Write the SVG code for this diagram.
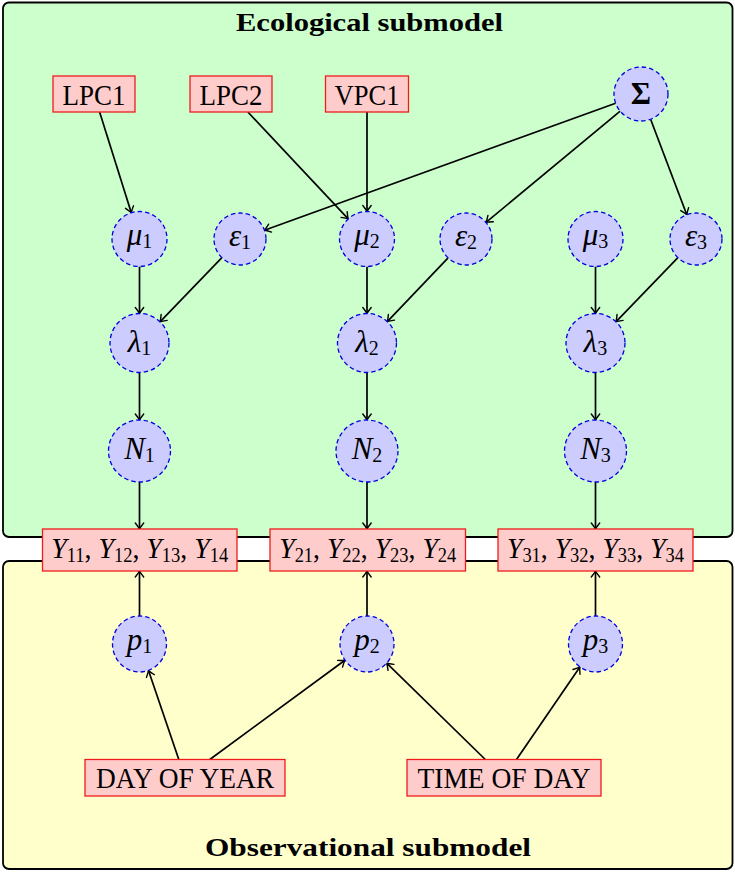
<svg xmlns="http://www.w3.org/2000/svg" width="735" height="872" viewBox="0 0 735 872">
<defs>
<style>
.panel{stroke:#000;stroke-width:1.8}
.box{fill:#ffcccc;stroke:#ee1c1c;stroke-width:1.3}
.var{fill:#ccccff;stroke:#0000e0;stroke-width:1.3;stroke-dasharray:4.5 3}
.edge{stroke:#000;stroke-width:1.7;fill:none;marker-end:url(#arr)}
text{font-family:"Liberation Serif","DejaVu Serif",serif;fill:#000}
.lbl{font-size:29px}
.ylbl{font-size:30px}
.m{font-size:31px;text-anchor:middle}
.it{font-style:italic}
.sub{font-size:20px;font-style:normal}
.title{font-size:26px;font-weight:bold;text-anchor:middle}
</style>
<marker id="arr" markerUnits="userSpaceOnUse" markerWidth="12" markerHeight="12" viewBox="-7 -6 8 12" refX="0" refY="0" orient="auto">
<path d="M-6,-4.2 Q-2,-1 0,0 Q-2,1 -6,4.2" fill="none" stroke="#000" stroke-width="1.4" stroke-linecap="round"/>
</marker>
</defs>
<rect width="735" height="872" fill="#fff"/>
<g id="eco-panel">
<rect class="panel" x="3" y="2.5" width="729.5" height="534.5" rx="6" fill="#ccffcc"/>
<text class="title" x="369.5" y="31" textLength="267" lengthAdjust="spacingAndGlyphs">Ecological submodel</text>
</g>
<g id="obs-panel">
<rect class="panel" x="3" y="561" width="729.5" height="308" rx="6" fill="#ffffcc"/>
<text class="title" x="368" y="855.5" textLength="326" lengthAdjust="spacingAndGlyphs">Observational submodel</text>
</g>
<g id="connectors">
<line class="edge" x1="99.6" y1="112" x2="131.3" y2="212.8"/>
<line class="edge" x1="247.9" y1="112" x2="348.2" y2="218.9"/>
<line class="edge" x1="367" y1="112" x2="367" y2="211.5"/>
<line class="edge" x1="615.6" y1="103.2" x2="264.45" y2="230.2"/>
<line class="edge" x1="620.2" y1="111.2" x2="486" y2="222.4"/>
<line class="edge" x1="650.6" y1="119.2" x2="686.8" y2="214.7"/>
<line class="edge" x1="139.5" y1="266.5" x2="139.5" y2="313.5"/>
<line class="edge" x1="221.9" y1="257.7" x2="160" y2="321.8"/>
<line class="edge" x1="367" y1="266.5" x2="367" y2="313.5"/>
<line class="edge" x1="448.1" y1="257.8" x2="387.3" y2="321.6"/>
<line class="edge" x1="595.5" y1="266.5" x2="595.5" y2="313.5"/>
<line class="edge" x1="677.9" y1="257.7" x2="615.9" y2="321.8"/>
<line class="edge" x1="139.5" y1="372.5" x2="139.5" y2="420"/>
<line class="edge" x1="367" y1="372.5" x2="367" y2="420"/>
<line class="edge" x1="595.5" y1="372.5" x2="595.5" y2="420"/>
<line class="edge" x1="139.5" y1="482" x2="139.5" y2="529"/>
<line class="edge" x1="367" y1="482" x2="367" y2="529"/>
<line class="edge" x1="595.5" y1="482" x2="595.5" y2="529"/>
<line class="edge" x1="139.5" y1="616" x2="139.5" y2="571"/>
<line class="edge" x1="367" y1="616" x2="367" y2="571"/>
<line class="edge" x1="595.5" y1="616" x2="595.5" y2="571"/>
<line class="edge" x1="178.8" y1="759.5" x2="148.5" y2="670.4"/>
<line class="edge" x1="209.8" y1="759.5" x2="344.9" y2="660.2"/>
<line class="edge" x1="485.3" y1="759.5" x2="386.7" y2="663.2"/>
<line class="edge" x1="516.5" y1="759.5" x2="579.9" y2="666.9"/>
</g>
<g id="LPC1"><rect class="box" x="53" y="76" width="82" height="36"/><text class="lbl" x="94" y="104.5" text-anchor="middle" textLength="63" lengthAdjust="spacingAndGlyphs">LPC1</text></g>
<g id="LPC2"><rect class="box" x="190" y="76" width="82" height="36"/><text class="lbl" x="231" y="104.5" text-anchor="middle" textLength="63" lengthAdjust="spacingAndGlyphs">LPC2</text></g>
<g id="VPC1"><rect class="box" x="325.5" y="76" width="83" height="36"/><text class="lbl" x="367" y="104.5" text-anchor="middle" textLength="65" lengthAdjust="spacingAndGlyphs">VPC1</text></g>
<g id="Sigma"><circle class="var" cx="641" cy="94" r="27"/><text class="m" x="641" y="104" font-weight="bold">Σ</text></g>
<g id="mu1"><circle class="var" cx="139.5" cy="239" r="27.5"/><text class="m" x="139.5" y="244.5"><tspan class="it">μ</tspan><tspan class="sub" dy="3">1</tspan></text></g>
<g id="eps1"><circle class="var" cx="240" cy="239" r="26"/><text class="m" x="240" y="246"><tspan class="it">ε</tspan><tspan class="sub" dy="3">1</tspan></text></g>
<g id="mu2"><circle class="var" cx="367" cy="239" r="27.5"/><text class="m" x="367" y="244.5"><tspan class="it">μ</tspan><tspan class="sub" dy="3">2</tspan></text></g>
<g id="eps2"><circle class="var" cx="466" cy="239" r="26"/><text class="m" x="466" y="246"><tspan class="it">ε</tspan><tspan class="sub" dy="3">2</tspan></text></g>
<g id="mu3"><circle class="var" cx="595.5" cy="239" r="27.5"/><text class="m" x="595.5" y="244.5"><tspan class="it">μ</tspan><tspan class="sub" dy="3">3</tspan></text></g>
<g id="eps3"><circle class="var" cx="696" cy="239" r="26"/><text class="m" x="696" y="246"><tspan class="it">ε</tspan><tspan class="sub" dy="3">3</tspan></text></g>
<g id="lambda1"><circle class="var" cx="139.5" cy="343" r="29.5"/><text class="m" x="139.5" y="352"><tspan class="it">λ</tspan><tspan class="sub" dy="3">1</tspan></text></g>
<g id="lambda2"><circle class="var" cx="367" cy="343" r="29.5"/><text class="m" x="367" y="352"><tspan class="it">λ</tspan><tspan class="sub" dy="3">2</tspan></text></g>
<g id="lambda3"><circle class="var" cx="595.5" cy="343" r="29.5"/><text class="m" x="595.5" y="352"><tspan class="it">λ</tspan><tspan class="sub" dy="3">3</tspan></text></g>
<g id="N1"><circle class="var" cx="139.5" cy="451" r="31"/><text class="m" x="139.5" y="459"><tspan class="it">N</tspan><tspan class="sub" dy="3">1</tspan></text></g>
<g id="N2"><circle class="var" cx="367" cy="451" r="31"/><text class="m" x="367" y="459"><tspan class="it">N</tspan><tspan class="sub" dy="3">2</tspan></text></g>
<g id="N3"><circle class="var" cx="595.5" cy="451" r="31"/><text class="m" x="595.5" y="459"><tspan class="it">N</tspan><tspan class="sub" dy="3">3</tspan></text></g>
<g id="Y1"><rect class="box" x="42.5" y="529" width="194.5" height="42"/><text class="ylbl" x="139.75" y="557.5" text-anchor="middle" textLength="177" lengthAdjust="spacingAndGlyphs"><tspan class="it">Y</tspan><tspan class="sub" dy="4">11</tspan><tspan dy="-4">, </tspan><tspan class="it">Y</tspan><tspan class="sub" dy="4">12</tspan><tspan dy="-4">, </tspan><tspan class="it">Y</tspan><tspan class="sub" dy="4">13</tspan><tspan dy="-4">, </tspan><tspan class="it">Y</tspan><tspan class="sub" dy="4">14</tspan></text></g>
<g id="Y2"><rect class="box" x="270" y="529" width="195.5" height="42"/><text class="ylbl" x="367.75" y="557.5" text-anchor="middle" textLength="177" lengthAdjust="spacingAndGlyphs"><tspan class="it">Y</tspan><tspan class="sub" dy="4">21</tspan><tspan dy="-4">, </tspan><tspan class="it">Y</tspan><tspan class="sub" dy="4">22</tspan><tspan dy="-4">, </tspan><tspan class="it">Y</tspan><tspan class="sub" dy="4">23</tspan><tspan dy="-4">, </tspan><tspan class="it">Y</tspan><tspan class="sub" dy="4">24</tspan></text></g>
<g id="Y3"><rect class="box" x="498" y="529" width="195" height="42"/><text class="ylbl" x="595.5" y="557.5" text-anchor="middle" textLength="177" lengthAdjust="spacingAndGlyphs"><tspan class="it">Y</tspan><tspan class="sub" dy="4">31</tspan><tspan dy="-4">, </tspan><tspan class="it">Y</tspan><tspan class="sub" dy="4">32</tspan><tspan dy="-4">, </tspan><tspan class="it">Y</tspan><tspan class="sub" dy="4">33</tspan><tspan dy="-4">, </tspan><tspan class="it">Y</tspan><tspan class="sub" dy="4">34</tspan></text></g>
<g id="p1"><ellipse class="var" cx="139.5" cy="644" rx="27" ry="28"/><text class="m" x="139.5" y="649.5"><tspan class="it">p</tspan><tspan class="sub" dy="3">1</tspan></text></g>
<g id="p2"><ellipse class="var" cx="367" cy="644" rx="27" ry="28"/><text class="m" x="367" y="649.5"><tspan class="it">p</tspan><tspan class="sub" dy="3">2</tspan></text></g>
<g id="p3"><ellipse class="var" cx="595.5" cy="644" rx="27" ry="28"/><text class="m" x="595.5" y="649.5"><tspan class="it">p</tspan><tspan class="sub" dy="3">3</tspan></text></g>
<g id="dayofyear"><rect class="box" x="85" y="759.5" width="200" height="36.5"/><text class="lbl" x="185" y="788" text-anchor="middle" textLength="178" lengthAdjust="spacingAndGlyphs">DAY OF YEAR</text></g>
<g id="timeofday"><rect class="box" x="407" y="759.5" width="194" height="36.5"/><text class="lbl" x="504" y="788" text-anchor="middle" textLength="173" lengthAdjust="spacingAndGlyphs">TIME OF DAY</text></g>
</svg>
